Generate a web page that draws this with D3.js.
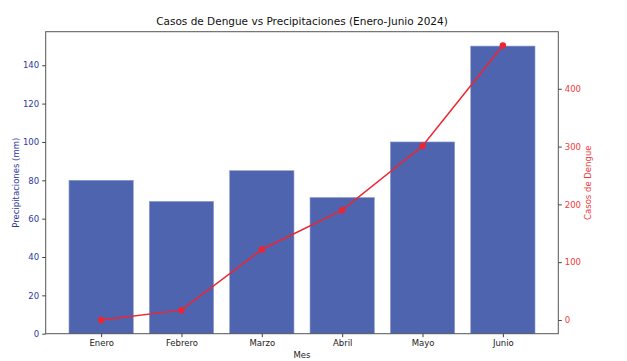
<!DOCTYPE html>
<html>
<head>
<meta charset="utf-8">
<script src="https://cdn.jsdelivr.net/npm/d3@7"></script>
<style>
  body { margin: 0; background: #fff; }
  svg { display: block; font-family: "DejaVu Sans", sans-serif; }
</style>
</head>
<body>
<svg id="chart" width="627" height="361"></svg>
<script>
const months = ["Enero", "Febrero", "Marzo", "Abril", "Mayo", "Junio"];
const rainfall = [80, 69, 85, 71, 100, 150];
const dengueCases = [0, 17, 122, 190, 301, 475];
const leftTicks = [0, 20, 40, 60, 80, 100, 120, 140];
const rightTicks = [0, 100, 200, 300, 400];

const svg = d3.select("#chart");
const m = { left: 45.7, right: 558.3, top: 31.7, bottom: 333.7 };

const x = d3.scaleLinear().domain([-0.69, 5.69]).range([m.left, m.right]);
const yL = d3.scaleLinear().domain([0, 157.5]).range([m.bottom, m.top]);
const span = d3.max(dengueCases) - d3.min(dengueCases);
const yR = d3.scaleLinear()
  .domain([d3.min(dengueCases) - 0.05 * span, d3.max(dengueCases) + 0.05 * span])
  .range([m.bottom, m.top]);

const barColor = "#4f64ae";
const leftColor = "#2b3aa0";
const rightColor = "#f03a3a";
const lineColor = "#ee2530";

// bars
svg.append("g").selectAll("rect").data(rainfall).join("rect")
  .attr("x", (d, i) => x(i - 0.4))
  .attr("width", x(0.4) - x(-0.4))
  .attr("y", d => yL(d))
  .attr("height", d => yL(0) - yL(d))
  .attr("fill", barColor)
  .attr("stroke", "#8a99d0")
  .attr("stroke-width", 0.6);

// line
const line = d3.line().x((d, i) => x(i)).y(d => yR(d));
svg.append("path").datum(dengueCases)
  .attr("d", line).attr("fill", "none")
  .attr("stroke", lineColor).attr("stroke-width", 1.5);
svg.append("g").selectAll("circle").data(dengueCases).join("circle")
  .attr("cx", (d, i) => x(i)).attr("cy", d => yR(d)).attr("r", 3.2)
  .attr("fill", lineColor);

// frame
svg.append("rect")
  .attr("x", m.left).attr("y", m.top)
  .attr("width", m.right - m.left).attr("height", m.bottom - m.top)
  .attr("fill", "none").attr("stroke", "#555").attr("stroke-width", 1);

// x axis
const xAxis = d3.axisBottom(x).tickValues(d3.range(months.length))
  .tickFormat(i => months[i]).tickSize(3.5).tickPadding(3);
const gx = svg.append("g").attr("transform", `translate(0,${m.bottom})`).call(xAxis);
gx.select(".domain").remove();
gx.selectAll("line").attr("stroke", "#444");
gx.selectAll("text").attr("font-size", 8.5).attr("fill", "#222")
  .attr("font-family", "DejaVu Sans, sans-serif");

// left axis
const lAxis = d3.axisLeft(yL).tickValues(leftTicks).tickSize(3.5).tickPadding(3);
const gl = svg.append("g").attr("transform", `translate(${m.left},0)`).call(lAxis);
gl.select(".domain").remove();
gl.selectAll("line").attr("stroke", "#444");
gl.selectAll("text").attr("font-size", 8.5).attr("fill", leftColor)
  .attr("font-family", "DejaVu Sans, sans-serif");

// right axis
const rAxis = d3.axisRight(yR).tickValues(rightTicks).tickSize(3.5).tickPadding(3);
const gr = svg.append("g").attr("transform", `translate(${m.right},0)`).call(rAxis);
gr.select(".domain").remove();
gr.selectAll("line").attr("stroke", "#444");
gr.selectAll("text").attr("font-size", 8.5).attr("fill", rightColor)
  .attr("font-family", "DejaVu Sans, sans-serif");

// labels
svg.append("text").attr("x", (m.left + m.right) / 2).attr("y", 25)
  .attr("text-anchor", "middle").attr("font-size", 10.5).attr("fill", "#111")
  .text("Casos de Dengue vs Precipitaciones (Enero-Junio 2024)");
svg.append("text").attr("x", (m.left + m.right) / 2).attr("y", 358)
  .attr("text-anchor", "middle").attr("font-size", 8.5).attr("fill", "#222")
  .text("Mes");
svg.append("text")
  .attr("transform", `translate(19,${(m.top + m.bottom) / 2}) rotate(-90)`)
  .attr("text-anchor", "middle").attr("font-size", 8.5).attr("fill", leftColor)
  .text("Precipitaciones (mm)");
svg.append("text")
  .attr("transform", `translate(591,${(m.top + m.bottom) / 2}) rotate(-90)`)
  .attr("text-anchor", "middle").attr("font-size", 8.5).attr("fill", rightColor)
  .text("Casos de Dengue");
</script>
</body>
</html>
